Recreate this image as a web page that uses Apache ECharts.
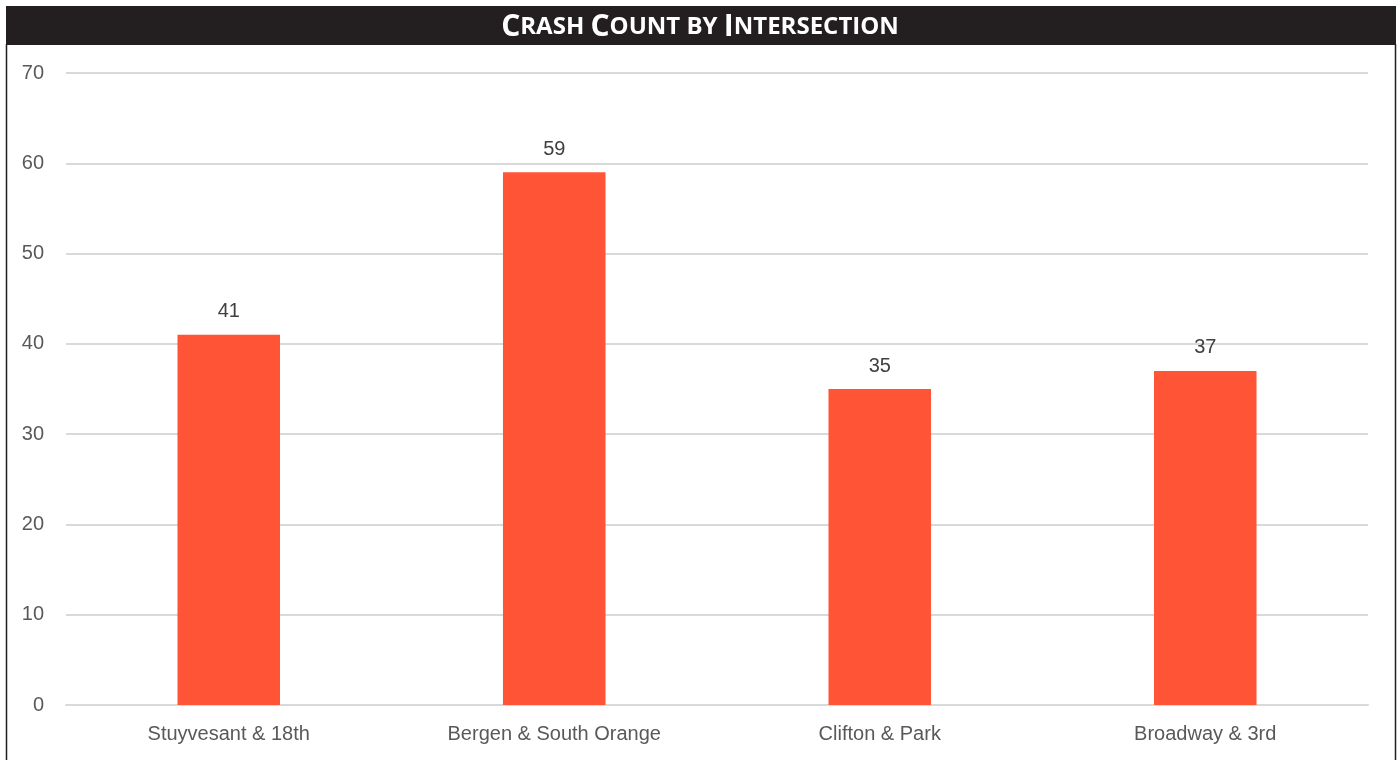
<!DOCTYPE html>
<html>
<head>
<meta charset="utf-8">
<script src="https://cdn.jsdelivr.net/npm/echarts@6/dist/echarts.min.js"></script>
<style>
  html, body { margin: 0; padding: 0; background: #fff; }
  #chart { width: 1400px; height: 760px; }
</style>
</head>
<body>
<div id="chart"></div>
<script>
// Crash totals per intersection
const intersections = ['Stuyvesant & 18th', 'Bergen & South Orange', 'Clifton & Park', 'Broadway & 3rd'];
const crashCounts = [41, 59, 35, 37];
const yTicks = { min: 0, max: 70, interval: 10 };

const labelFont = "'Liberation Sans Narrow', 'Arial Narrow', 'Liberation Sans', sans-serif";

const chart = echarts.init(document.getElementById('chart'), null, { renderer: 'canvas' });

chart.setOption({
  backgroundColor: '#ffffff',
  animation: false,
  graphic: [
    // header band
    { type: 'rect', shape: { x: 6, y: 6, width: 1390, height: 39 }, style: { fill: '#231f20' }, z: 0 },
    // side frame lines
    { type: 'line', shape: { x1: 6.5, y1: 44, x2: 6.5, y2: 760 }, style: { stroke: '#231f20', lineWidth: 1.5 } },
    { type: 'line', shape: { x1: 1395.5, y1: 44, x2: 1395.5, y2: 760 }, style: { stroke: '#231f20', lineWidth: 1.5 } },
    {
      type: 'text', left: 'center', top: 12, z: 10,
      style: {
        text: '{b|C}{s|RASH }{b|C}{s|OUNT BY }{b|I}{s|NTERSECTION}',
        rich: {
          b: { fontFamily: "'Open Sans', sans-serif", fontWeight: 'bold', fontSize: 30, fill: '#ffffff', lineHeight: 34 },
          s: { fontFamily: "'Open Sans', sans-serif", fontWeight: 'bold', fontSize: 24, fill: '#ffffff', lineHeight: 34 }
        }
      }
    }
  ],
  grid: { left: 66, right: 32, top: 73, bottom: 55, containLabel: false },
  xAxis: {
    type: 'category',
    data: intersections,
    axisLine: { show: true, lineStyle: { color: '#d9d9d9', width: 2 } },
    axisTick: { show: false },
    axisLabel: { color: '#595959', fontSize: 20, fontFamily: labelFont, margin: 19 }
  },
  yAxis: {
    type: 'value',
    min: yTicks.min,
    max: yTicks.max,
    interval: yTicks.interval,
    axisLine: { show: false },
    axisTick: { show: false },
    splitLine: { lineStyle: { color: '#d9d9d9', width: 2 } },
    axisLabel: { color: '#595959', fontSize: 20, fontFamily: labelFont, margin: 22 }
  },
  series: [{
    type: 'bar',
    data: crashCounts,
    barWidth: '31.5%',
    itemStyle: { color: '#ff5436' },
    label: {
      show: true,
      position: 'top',
      distance: 13,
      color: '#404040',
      fontSize: 20,
      fontFamily: labelFont
    }
  }]
});
</script>
</body>
</html>
